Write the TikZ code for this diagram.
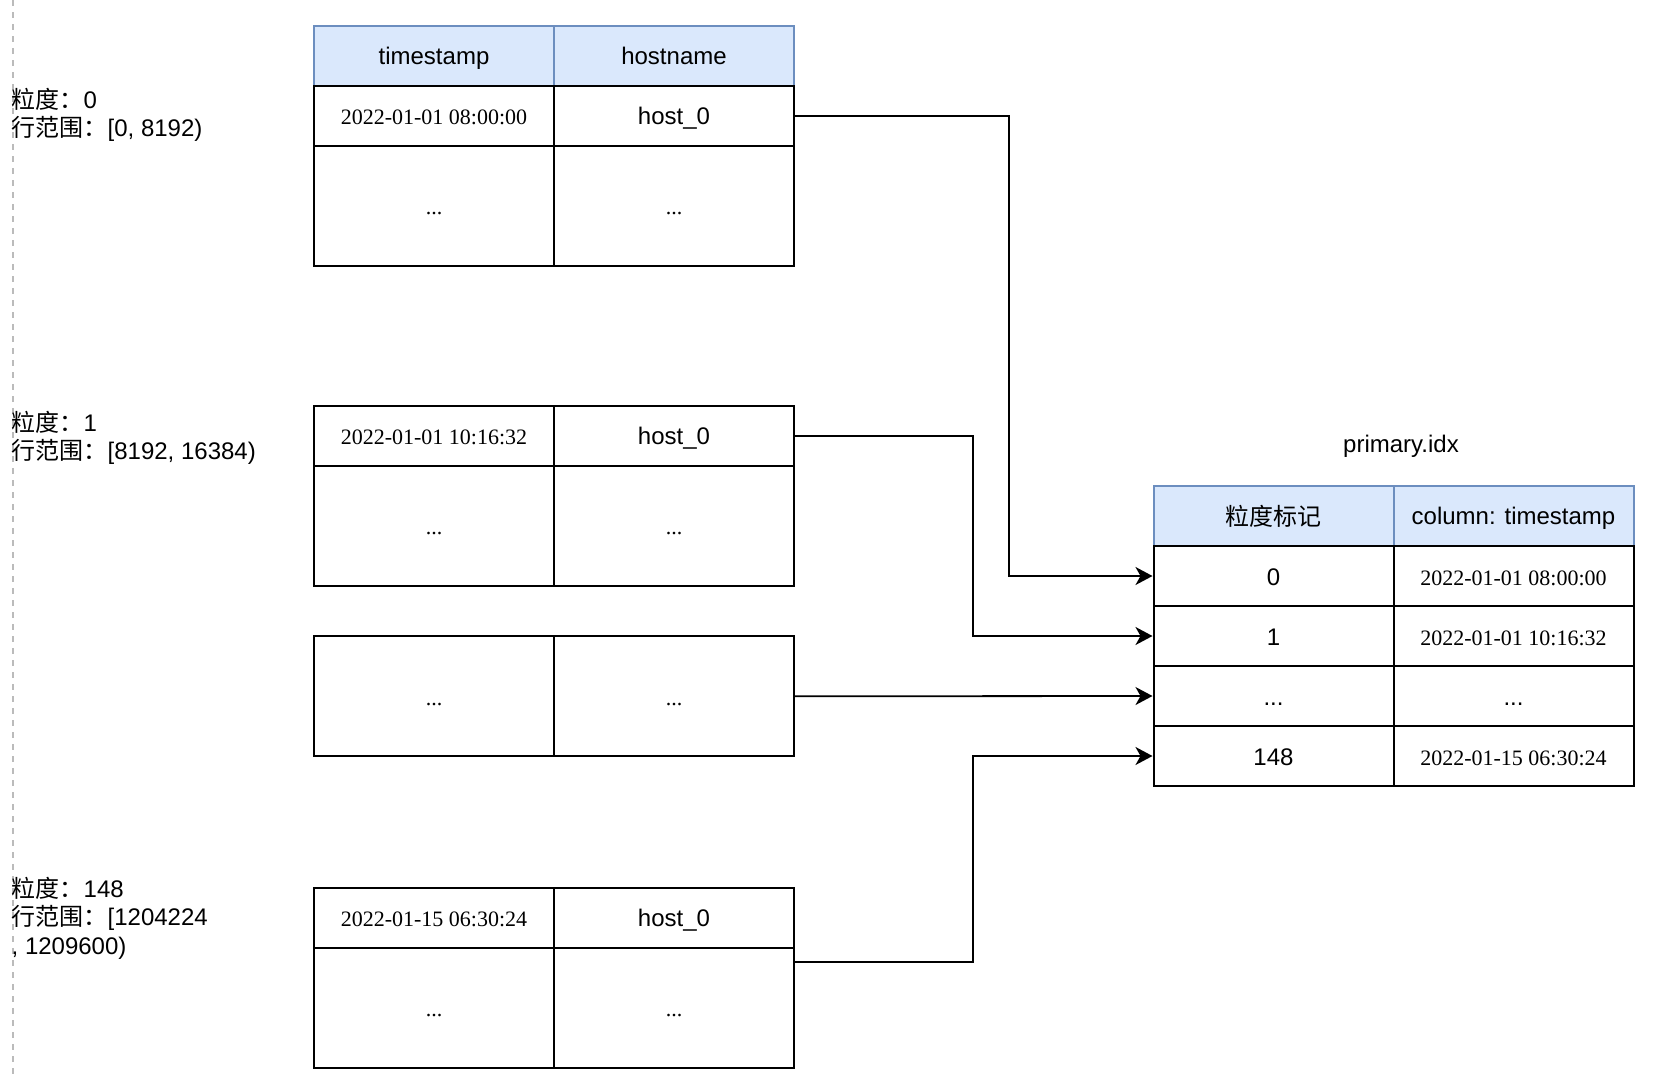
\documentclass[tikz,border=0pt]{standalone}
\usepackage{fontspec}
\setmainfont{Liberation Sans}
\newfontfamily\cjk{Noto Sans CJK SC}
\newfontfamily\tms{Liberation Serif}
\usetikzlibrary{arrows.meta,calc}
\definecolor{hdrfill}{HTML}{DAE8FC}
\definecolor{hdrline}{HTML}{6C8EBF}
\definecolor{dashgray}{HTML}{BBBBBB}
\newcommand{\cellstrut}{\rule[-4pt]{0pt}{26pt}}
\tikzset{
  cell/.style={draw=black, line width=2pt, minimum width=240pt, minimum height=60pt,
    inner sep=0pt, anchor=north west, font=\fontsize{24}{28}\selectfont,
    execute at begin node=\cellstrut},
  tallcell/.style={cell, minimum height=120pt},
  hdr/.style={cell, fill=hdrfill, draw=hdrline},
  dt/.style={font=\tms\fontsize{22}{26}\selectfont},
  sdots/.style={font=\tms\fontsize{22}{26}\selectfont},
  lbl/.style={anchor=west, align=left, inner sep=0pt, font=\fontsize{24}{28.5}\selectfont},
  conn/.style={draw=black, line width=1.8pt, -{Stealth[length=17pt,width=18pt,inset=5pt]}},
  guide/.style={draw=dashgray, line width=2pt, dash pattern=on 6pt off 6pt}
}
\begin{document}
\begin{tikzpicture}[x=1pt,y=-1pt]
\useasboundingbox (0,0) rectangle (1674,1076);
% dashed guide line
\coordinate (gtop) at (13,0);
\coordinate (gbot) at (13,1076);
\draw[guide] (gtop) -- (gbot);

% ---------- table 1 ----------
\node[hdr] (t1h1) at (313,24.7) {timestamp};
\node[hdr] (t1h2) at (553,24.7) {hostname};
\node[cell,dt] (t1a1) at (313,84.7) {2022-01-01 08:00:00};
\node[cell] (t1a2) at (553,84.7) {host\_0};
\node[tallcell,sdots] (t1b1) at (313,144.7) {...};
\node[tallcell,sdots] (t1b2) at (553,144.7) {...};

% ---------- table 2 ----------
\node[cell,dt] (t2a1) at (313,404.7) {2022-01-01 10:16:32};
\node[cell] (t2a2) at (553,404.7) {host\_0};
\node[tallcell,sdots] (t2b1) at (313,464.7) {...};
\node[tallcell,sdots] (t2b2) at (553,464.7) {...};

% ---------- table 3 ----------
\node[tallcell,sdots] (t3a1) at (313,635.3) {...};
\node[tallcell,sdots] (t3a2) at (553,635.3) {...};

% ---------- table 4 ----------
\node[cell,dt] (t4a1) at (313,886.7) {2022-01-15 06:30:24};
\node[cell] (t4a2) at (553,886.7) {host\_0};
\node[tallcell,sdots] (t4b1) at (313,946.7) {...};
\node[tallcell,sdots] (t4b2) at (553,946.7) {...};

% ---------- labels ----------
\node[lbl] (l1) at (11.5,115) {{\cjk 粒度：}0\\{\cjk 行范围：}[0, 8192)};
\node[lbl] (l2) at (11.5,438) {{\cjk 粒度：}1\\{\cjk 行范围：}[8192, 16384)};
\node[lbl] (l3) at (11.5,918) {{\cjk 粒度：}148\\{\cjk 行范围：}[1204224\\, 1209600)};

% ---------- index ----------
\node[font=\fontsize{24}{28.5}\selectfont, inner sep=0pt] (ptitle) at (1401,446.7) {primary.idx};
\node[hdr] (ih1) at (1152.5,485) {\cjk 粒度标记};
\node[hdr] (ih2) at (1392.5,485) {column: timestamp};
\node[cell] (i1) at (1152.5,545) {0};
\node[cell,dt] (i1b) at (1392.5,545) {2022-01-01 08:00:00};
\node[cell] (i2) at (1152.5,605) {1};
\node[cell,dt] (i2b) at (1392.5,605) {2022-01-01 10:16:32};
\node[cell] (i3) at (1152.5,665) {...};
\node[cell] (i3b) at (1392.5,665) {...};
\node[cell] (i4) at (1152.5,725) {148};
\node[cell,dt] (i4b) at (1392.5,725) {2022-01-15 06:30:24};

% ---------- connectors ----------
\coordinate (j1) at (1008.6,0);
\coordinate (j2) at (972.7,0);
\coordinate (s4) at ($(t4b2.north east)+(0,15)$);
\draw[conn] (t1a2.east) -- (t1a2.east -| j1) |- (i1.west);
\draw[conn] (t2a2.east) -- (t2a2.east -| j2) |- (i2.west);
\draw[conn] (t3a2.east) -- (i3.west);
\draw[conn] (s4) -- (s4 -| j2) |- (i4.west);
\end{tikzpicture}
\end{document}
